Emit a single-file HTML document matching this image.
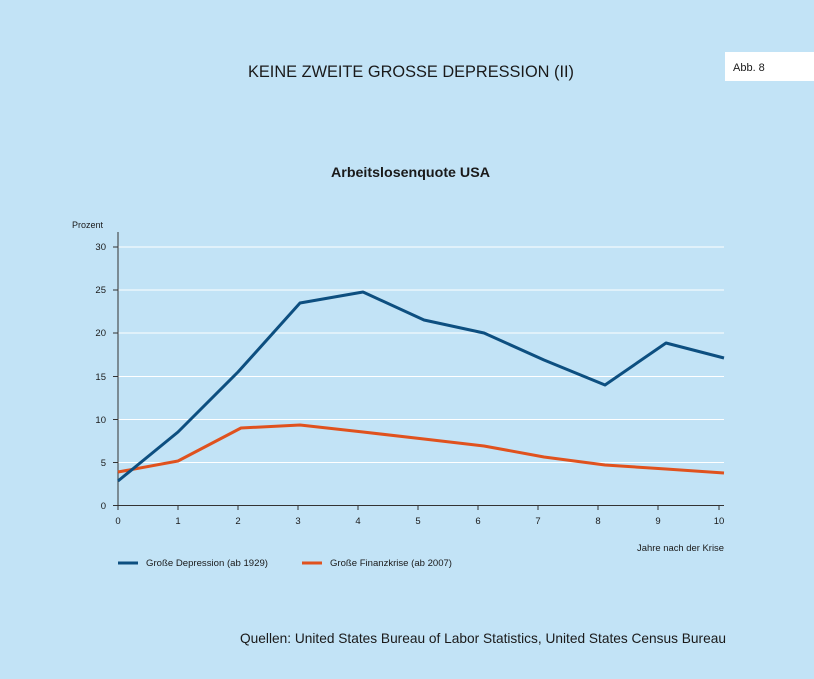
<!DOCTYPE html>
<html><head><meta charset="utf-8"><style>
body{margin:0;background:#c2e3f6;width:814px;height:674px;overflow:hidden;font-family:"Liberation Sans",sans-serif;}
</style></head><body>
<svg width="814" height="674" xmlns="http://www.w3.org/2000/svg" font-family="Liberation Sans, sans-serif">
<rect width="814" height="674" fill="#c2e3f6"/>
<text x="248" y="77" font-size="17" fill="#1a1a1a" textLength="326" lengthAdjust="spacingAndGlyphs">KEINE ZWEITE GROSSE DEPRESSION (II)</text>
<rect x="725" y="52" width="89" height="29" fill="#fff"/>
<text x="733" y="71" font-size="11" fill="#1a1a1a">Abb. 8</text>
<text x="331" y="177" font-size="14" font-weight="bold" fill="#1a1a1a" textLength="159" lengthAdjust="spacingAndGlyphs">Arbeitslosenquote USA</text>
<text x="72" y="228" font-size="9" fill="#1a1a1a">Prozent</text>
<g stroke="#fff" stroke-width="1">
<line x1="118" x2="724" y1="247" y2="247"/><line x1="118" x2="724" y1="290" y2="290"/>
<line x1="118" x2="724" y1="333" y2="333"/><line x1="118" x2="724" y1="376.5" y2="376.5"/>
<line x1="118" x2="724" y1="419.5" y2="419.5"/><line x1="118" x2="724" y1="462.5" y2="462.5"/>
</g>
<g stroke="#333" stroke-width="1">
<line x1="118" y1="232" x2="118" y2="505"/><line x1="113" y1="505.5" x2="724" y2="505.5"/>
<line x1="113" x2="118" y1="247" y2="247"/><line x1="113" x2="118" y1="290" y2="290"/><line x1="113" x2="118" y1="333" y2="333"/><line x1="113" x2="118" y1="376.5" y2="376.5"/><line x1="113" x2="118" y1="419.5" y2="419.5"/><line x1="113" x2="118" y1="462.5" y2="462.5"/>
<line x1="118" x2="118" y1="505" y2="510"/><line x1="178" x2="178" y1="505" y2="510"/><line x1="238" x2="238" y1="505" y2="510"/><line x1="298" x2="298" y1="505" y2="510"/><line x1="358" x2="358" y1="505" y2="510"/><line x1="418" x2="418" y1="505" y2="510"/><line x1="478" x2="478" y1="505" y2="510"/><line x1="538" x2="538" y1="505" y2="510"/><line x1="598" x2="598" y1="505" y2="510"/><line x1="658" x2="658" y1="505" y2="510"/><line x1="719" x2="719" y1="505" y2="510"/>
</g>
<g font-size="9.5" fill="#1a1a1a" text-anchor="end">
<text x="106" y="250">30</text><text x="106" y="293">25</text><text x="106" y="336">20</text><text x="106" y="380">15</text><text x="106" y="423">10</text><text x="106" y="466">5</text><text x="106" y="509">0</text>
</g>
<g font-size="9.5" fill="#1a1a1a" text-anchor="middle">
<text x="118" y="524">0</text><text x="178" y="524">1</text><text x="238" y="524">2</text><text x="298" y="524">3</text><text x="358" y="524">4</text><text x="418" y="524">5</text><text x="478" y="524">6</text><text x="538" y="524">7</text><text x="598" y="524">8</text><text x="658" y="524">9</text><text x="719" y="524">10</text>
</g>
<text x="637" y="551" font-size="9" fill="#1a1a1a" textLength="87" lengthAdjust="spacingAndGlyphs">Jahre nach der Krise</text>
<polyline fill="none" stroke="#e0521e" stroke-width="3" stroke-linejoin="round" points="118,472 178,461 241,428 300,425 363,432 424,439 484,446 544,457 605,465 666,469 724,473"/>
<polyline fill="none" stroke="#0d4f80" stroke-width="3" stroke-linejoin="round" points="118,481 178,432 238,372 300,303 363,292 424,320 484,333 544,360 605,385 666,343 724,358"/>
<line x1="118" x2="138" y1="563" y2="563" stroke="#0d4f80" stroke-width="3"/>
<text x="146" y="566" font-size="9" fill="#1a1a1a" textLength="122" lengthAdjust="spacingAndGlyphs">Große Depression (ab 1929)</text>
<line x1="302" x2="322" y1="563" y2="563" stroke="#e0521e" stroke-width="3"/>
<text x="330" y="566" font-size="9" fill="#1a1a1a" textLength="122" lengthAdjust="spacingAndGlyphs">Große Finanzkrise (ab 2007)</text>
<text x="240" y="643" font-size="14" fill="#1a1a1a" textLength="486" lengthAdjust="spacingAndGlyphs">Quellen: United States Bureau of Labor Statistics, United States Census Bureau</text>
</svg>
</body></html>
